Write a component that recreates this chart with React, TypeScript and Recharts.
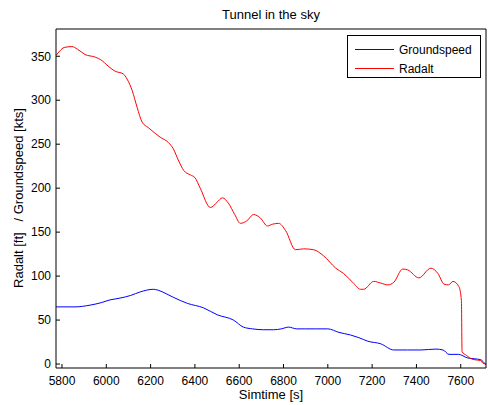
import React from 'react';
import { LineChart, Line, XAxis, YAxis, Legend } from 'recharts';

// Radalt [ft] over simtime [s]
const radaltTime = [5773, 5790, 5810, 5845, 5870, 5904, 5950, 5981, 6003, 6040, 6076, 6094, 6117, 6139, 6162, 6189, 6243, 6280, 6302, 6325, 6350, 6380, 6400, 6424, 6470, 6500, 6524, 6551, 6580, 6605, 6635, 6665, 6696, 6727, 6750, 6778, 6809, 6854, 6891, 6936, 6981, 7036, 7071, 7112, 7148, 7162, 7207, 7240, 7271, 7298, 7338, 7361, 7411, 7465, 7497, 7524, 7545, 7565, 7592, 7603, 7606, 7625, 7640, 7660, 7690, 7700, 7714];
const radaltFt = [351, 356, 360, 361, 358, 352, 349, 345, 340, 333, 330, 324, 311, 292, 275, 269, 258, 252, 245, 232, 220, 215, 212, 200, 178, 184, 189, 183, 170, 160, 163, 170, 166, 157, 159, 160, 152, 130, 131, 130, 123, 109, 103, 93, 85, 85, 94, 92, 90, 93, 108, 107, 98, 109, 103, 91, 90, 94, 88, 72, 14, 10, 7, 5, 4, 1, 0];

// Groundspeed [kts] over simtime [s]
const speedTime = [5773, 5859, 5927, 5980, 6017, 6040, 6062, 6110, 6153, 6212, 6234, 6270, 6302, 6366, 6438, 6501, 6574, 6619, 6660, 6710, 6755, 6790, 6823, 6860, 6900, 6950, 7000, 7050, 7103, 7140, 7180, 7239, 7298, 7360, 7420, 7488, 7520, 7547, 7590, 7630, 7660, 7690, 7700, 7714];
const speedKts = [65, 65, 67, 70, 73, 74, 75, 78, 82, 85, 84, 80, 76, 69, 64, 56, 50, 42, 40, 39, 39, 40, 42, 40, 40, 40, 40, 36, 33, 30, 26, 23, 16, 16, 16, 17, 16, 11, 11, 7, 6, 5, 3, -1];

const xTicks = [5800, 6000, 6200, 6400, 6600, 6800, 7000, 7200, 7400, 7600];
const yTicks = [0, 50, 100, 150, 200, 250, 300, 350];

const radaltData = radaltTime.map((t, i) => ({ t, v: radaltFt[i] }));
const speedData = speedTime.map((t, i) => ({ t, v: speedKts[i] }));

const font = 'Liberation Sans, Arial, sans-serif';
const tickStyle = { fill: '#000', fontSize: 12, fontFamily: font };

function MatlabLegend({ payload }: any) {
  return (
    <div style={{ border: '1px solid #000', background: '#fff', width: 134, height: 43, boxSizing: 'border-box', padding: '4px 0 0 7px', fontFamily: font, fontSize: 12 }}>
      {(payload || []).map((p: any) => (
        <div key={p.value} style={{ display: 'flex', alignItems: 'center', height: 19 }}>
          <span style={{ display: 'inline-block', width: 39, borderTop: `1px solid ${p.color}`, marginRight: 5 }} />
          <span>{p.value}</span>
        </div>
      ))}
    </div>
  );
}

export default function App() {
  return (
    <div style={{ position: 'absolute', left: 0, top: 0, width: 488, height: 405, background: '#fff', fontFamily: font }}>
      <LineChart width={488} height={405} margin={{ top: 0, right: 0, bottom: 0, left: 0 }}>
        <XAxis xAxisId="b" dataKey="t" type="number" domain={[5773, 7714]} ticks={xTicks} allowDataOverflow
          height={37} tickSize={-4} tickMargin={12} tick={tickStyle} stroke="#000" />
        <XAxis xAxisId="t" orientation="top" dataKey="t" type="number" domain={[5773, 7714]} ticks={xTicks} allowDataOverflow
          height={29} tickSize={-4} tick={false} stroke="#000" />
        <YAxis yAxisId="l" type="number" domain={[-4.5, 381]} ticks={yTicks} allowDataOverflow
          width={56} tickSize={-4} tickMargin={9} tick={tickStyle} stroke="#000" />
        <YAxis yAxisId="r" orientation="right" type="number" domain={[-4.5, 381]} ticks={yTicks} allowDataOverflow
          width={2} tickSize={-4} tick={false} stroke="#000" />
        <Legend layout="vertical" align="center" verticalAlign="middle" content={<MatlabLegend />}
          wrapperStyle={{ left: 347, top: 35, width: 134, height: 43 }} />
        <Line xAxisId="b" yAxisId="l" data={speedData} dataKey="v" name="Groundspeed" stroke="#0000ff" strokeWidth={1} dot={false} isAnimationActive={false} type="monotone" />
        <Line xAxisId="b" yAxisId="l" data={radaltData} dataKey="v" name="Radalt" stroke="#ff0000" strokeWidth={1} dot={false} isAnimationActive={false} type="monotone" />
      </LineChart>
      <div style={{ position: 'absolute', left: 56, width: 430, top: 7, textAlign: 'center', fontSize: 13 }}>Tunnel in the sky</div>
      <div style={{ position: 'absolute', left: 56, width: 430, top: 387, textAlign: 'center', fontSize: 13 }}>Simtime [s]</div>
      <div style={{ position: 'absolute', left: 18, top: 198, transform: 'translate(-50%, -50%) rotate(-90deg)', whiteSpace: 'pre', fontSize: 13 }}>
        {'Radalt [ft]   / Groundspeed [kts]'}
      </div>
    </div>
  );
}
